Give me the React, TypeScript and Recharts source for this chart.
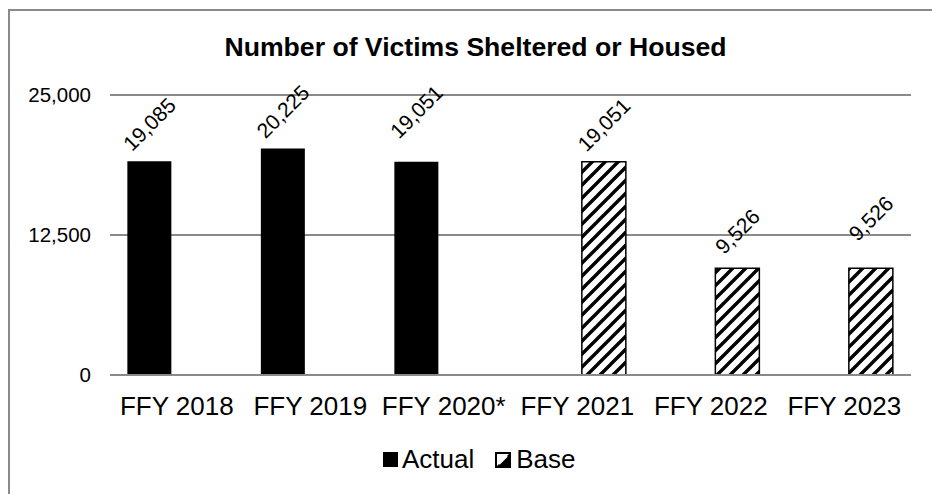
import React from "react";
import { Bar, BarChart, CartesianGrid, LabelList, Legend, XAxis, YAxis } from "recharts";

const categories = ["FFY 2018", "FFY 2019", "FFY 2020*", "FFY 2021", "FFY 2022", "FFY 2023"];
const actualValues = [19085, 20225, 19051, null, null, null];
const baseValues = [null, null, null, 19051, 9526, 9526];
const yTicks = [0, 12500, 25000];

const data = categories.map((name, i) => ({
  name,
  actual: actualValues[i],
  base: baseValues[i],
}));

const FONT = "'Liberation Sans', Arial, sans-serif";
const GRID = "#8a8a8a";
// how far above the bar top each rotated label sits (hand placed in the original)
const LABEL_LIFT = [37, 37, 50, 49, 66, 68];

const fmt = (v: number) => v.toLocaleString("en-US");

function SlantLabel(props: any) {
  const { x, y, width, value, index } = props;
  if (value == null) return null;
  const cx = Number(x) + Number(width) / 2;
  const cy = Number(y) - LABEL_LIFT[index];
  return (
    <g transform={`translate(${cx}, ${cy}) rotate(-45)`}>
      <text
        x={0}
        y={0}
        textAnchor="middle"
        dominantBaseline="central"
        fontFamily={FONT}
        fontSize={21}
        fill="#000"
      >
        {fmt(Number(value))}
      </text>
    </g>
  );
}

function LegendBox() {
  return (
    <div style={{ display: "flex", alignItems: "center", fontFamily: FONT, fontSize: 26, color: "#000", whiteSpace: "nowrap" }}>
      <svg width={15} height={15} style={{ marginRight: 4 }}>
        <rect x={0} y={0} width={15} height={15} fill="#000" />
      </svg>
      <span>Actual</span>
      <svg width={16} height={16} style={{ marginLeft: 21, marginRight: 5 }}>
        <rect x={1} y={1} width={14} height={14} fill="#fff" stroke="#000" strokeWidth={2} />
        <path d="M1,15 L15,1 L15,15 Z" fill="#000" />
        <path d="M4,12 L12,4" stroke="#fff" strokeWidth={2} />
      </svg>
      <span>Base</span>
    </div>
  );
}

export default function App() {
  return (
    <div style={{ position: "absolute", left: 0, top: 0, width: 932, height: 494, overflow: "hidden", background: "#fff" }}>
      <div
        style={{
          position: "absolute",
          left: 8,
          top: 9,
          width: 940,
          height: 500,
          border: `2px solid ${GRID}`,
          boxSizing: "border-box",
        }}
      />
      <div
        style={{
          position: "absolute",
          left: 0,
          top: 32,
          width: 951,
          textAlign: "center",
          fontFamily: FONT,
          fontWeight: "bold",
          fontSize: 26.6,
          color: "#000",
        }}
      >
        Number of Victims Sheltered or Housed
      </div>
      <div style={{ position: "absolute", left: 0, top: 0 }}>
        <BarChart
          width={932}
          height={494}
          data={data}
          margin={{ top: 95, right: 21, left: 0, bottom: 59 }}
          barCategoryGap="13%"
          barGap={10}
        >
          <defs>
            <pattern id="upDiag" patternUnits="userSpaceOnUse" width={13} height={13}>
              <rect width={13} height={13} fill="#fff" />
              <path d="M-3,16 L16,-3 M-3,3 L3,-3 M10,16 L16,10" stroke="#000" strokeWidth={3.4} />
            </pattern>
          </defs>
          <CartesianGrid vertical={false} stroke={GRID} strokeWidth={2} />
          <XAxis
            dataKey="name"
            height={60}
            tickLine={false}
            tickSize={0}
            tickMargin={22}
            axisLine={{ stroke: GRID, strokeWidth: 2 }}
            tick={{ fill: "#000", fontSize: 26, fontFamily: FONT }}
            interval={0}
          />
          <YAxis
            width={110}
            domain={[0, 25000]}
            ticks={yTicks}
            tickFormatter={fmt}
            tickLine={false}
            axisLine={false}
            tickSize={0}
            tickMargin={19}
            tick={{ fill: "#000", fontSize: 20.5, fontFamily: FONT }}
          />
          <Legend
            layout="horizontal"
            verticalAlign="middle"
            align="center"
            content={() => <LegendBox />}
            wrapperStyle={{ left: 383, top: 444, width: "auto" }}
          />
          <Bar dataKey="actual" name="Actual" fill="#000" isAnimationActive={false}>
            <LabelList dataKey="actual" content={SlantLabel} />
          </Bar>
          <Bar dataKey="base" name="Base" fill="url(#upDiag)" stroke="#000" strokeWidth={1.5} isAnimationActive={false}>
            <LabelList dataKey="base" content={SlantLabel} />
          </Bar>
        </BarChart>
      </div>
    </div>
  );
}
